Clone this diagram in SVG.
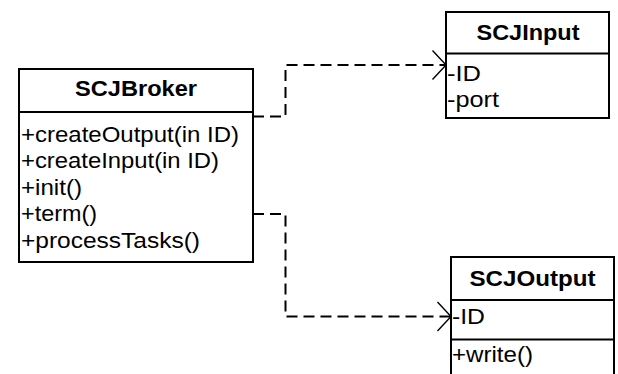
<svg xmlns="http://www.w3.org/2000/svg" width="618" height="374" viewBox="0 0 618 374">
<defs>
<style>
.box{fill:#fff;stroke:#000;stroke-width:2}
.div{stroke:#000;stroke-width:2}
.t{font-family:"Liberation Sans",Arial,Helvetica,sans-serif;font-size:22px;fill:#000}
.b{font-weight:bold;text-anchor:middle}
.c{fill:none;stroke:#000;stroke-width:2;stroke-dasharray:11 6}
</style>
<marker id="open" markerUnits="userSpaceOnUse" markerWidth="20" markerHeight="32" refX="15" refY="16" orient="auto" overflow="visible">
<path d="M1.5,1.5 L15,16 L1.5,30.5" fill="none" stroke="#000" stroke-width="1.4" stroke-dasharray="none"/>
</marker>
</defs>
<rect width="618" height="374" fill="#fff"/>
<g id="connectors">
<path class="c" d="M253,116.5 H285.5 V65 H446" marker-end="url(#open)"/>
<path class="c" d="M253,214 H285.5 V316.5 H451" marker-end="url(#open)"/>
</g>
<g id="SCJBroker">
<rect class="box" x="19" y="69" width="234" height="193"/>
<line class="div" x1="19" y1="112" x2="253" y2="112"/>
<text class="t b" x="136" y="96" textLength="122" lengthAdjust="spacingAndGlyphs">SCJBroker</text>
<text class="t" x="21" y="141.5" textLength="218" lengthAdjust="spacingAndGlyphs">+createOutput(in ID)</text>
<text class="t" x="21" y="168" textLength="198" lengthAdjust="spacingAndGlyphs">+createInput(in ID)</text>
<text class="t" x="21" y="194.5" textLength="61" lengthAdjust="spacingAndGlyphs">+init()</text>
<text class="t" x="21" y="221" textLength="76" lengthAdjust="spacingAndGlyphs">+term()</text>
<text class="t" x="21" y="247.5" textLength="179" lengthAdjust="spacingAndGlyphs">+processTasks()</text>
</g>
<g id="SCJInput">
<rect class="box" x="446" y="12" width="163" height="106"/>
<line class="div" x1="446" y1="53.5" x2="609" y2="53.5"/>
<text class="t b" x="528" y="40" textLength="103" lengthAdjust="spacingAndGlyphs">SCJInput</text>
<text class="t" x="447" y="81" textLength="34" lengthAdjust="spacingAndGlyphs">-ID</text>
<text class="t" x="447" y="107.3" textLength="52" lengthAdjust="spacingAndGlyphs">-port</text>
</g>
<g id="SCJOutput">
<rect class="box" x="451" y="257" width="163" height="130"/>
<line class="div" x1="451" y1="300" x2="614" y2="300"/>
<line class="div" x1="451" y1="339.5" x2="614" y2="339.5"/>
<text class="t b" x="532.5" y="286" textLength="126" lengthAdjust="spacingAndGlyphs">SCJOutput</text>
<text class="t" x="452" y="324" textLength="33" lengthAdjust="spacingAndGlyphs">-ID</text>
<text class="t" x="452" y="362" textLength="81" lengthAdjust="spacingAndGlyphs">+write()</text>
</g>
</svg>
